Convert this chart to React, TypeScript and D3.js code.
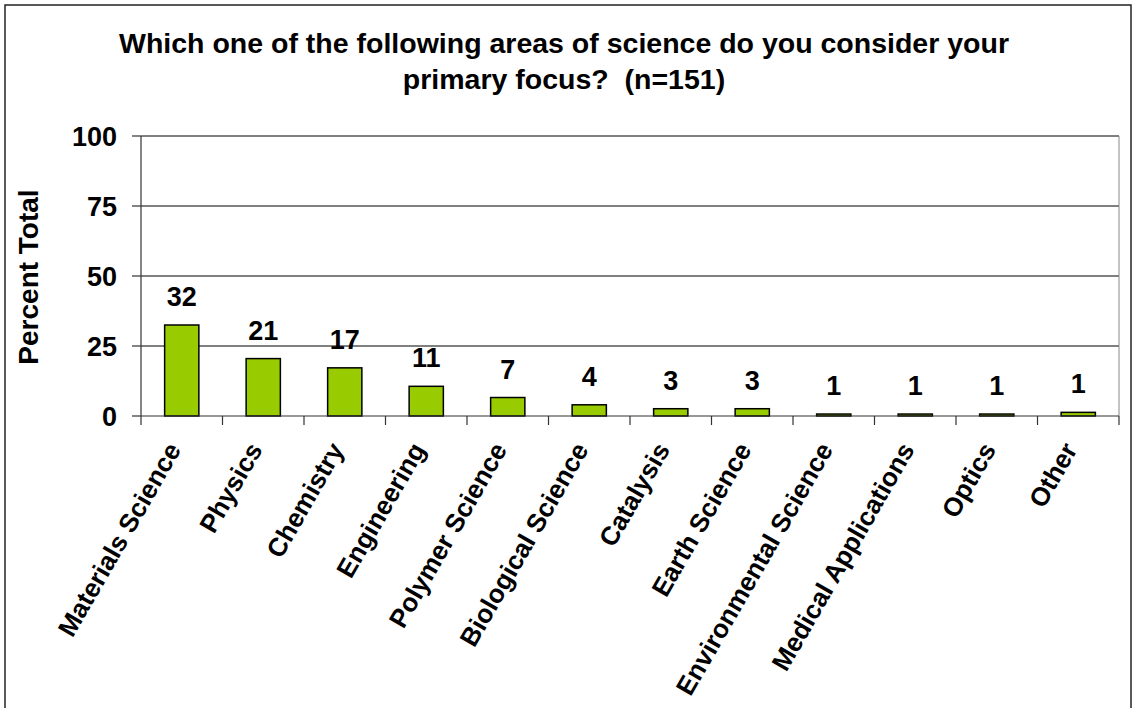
import React from "react";
import * as d3 from "d3";

const categories = [
  "Materials Science",
  "Physics",
  "Chemistry",
  "Engineering",
  "Polymer Science",
  "Biological Science",
  "Catalysis",
  "Earth Science",
  "Environmental Science",
  "Medical Applications",
  "Optics",
  "Other",
];
const values = [32.5, 20.5, 17.2, 10.6, 6.6, 4.0, 2.6, 2.6, 0.7, 0.7, 0.7, 1.3];
const valueLabels = ["32", "21", "17", "11", "7", "4", "3", "3", "1", "1", "1", "1"];
const yTicks = [0, 25, 50, 75, 100];
const titleLines = [
  "Which one of the following areas of science do you consider your",
  "primary focus?\u00a0 (n=151)",
];
const yAxisTitle = "Percent Total";

const W = 1135;
const H = 708;
const FONT = "Arial, 'Liberation Sans', Helvetica, sans-serif";

export default function App() {
  const left = 141;
  const right = 1119;
  const top = 136;
  const bottom = 416;
  const x = d3.scaleBand<string>().domain(categories).range([left, right]).padding(0);
  const y = d3.scaleLinear().domain([0, 100]).range([bottom, top]);
  const barW = x.bandwidth() * 0.42;
  const boundaries = d3.range(categories.length + 1).map((i) => left + i * x.step());

  return (
    <svg
      width={W}
      height={H}
      viewBox={`0 0 ${W} ${H}`}
      style={{ position: "absolute", left: 0, top: 0, background: "#fff" }}
      fontFamily={FONT}
    >
      <rect x={0} y={0} width={W} height={H} fill="#fff" />
      <rect x={5} y={5} width={1126} height={H + 10} fill="none" stroke="#222" strokeWidth={1.5} />

      {/* title */}
      {titleLines.map((t, i) => (
        <text
          key={i}
          x={564}
          y={53 + i * 36}
          textAnchor="middle"
          fontSize={28.5}
          fontWeight="bold"
          fill="#000"
        >
          {t}
        </text>
      ))}

      {/* gridlines */}
      {yTicks.filter((t) => t > 0).map((t) => (
        <line key={t} x1={left} x2={right} y1={y(t)} y2={y(t)} stroke="#000" strokeWidth={1} />
      ))}
      <line x1={right} x2={right} y1={top} y2={bottom} stroke="#888" strokeWidth={1} />

      {/* y axis */}
      <line x1={left} x2={left} y1={top} y2={bottom} stroke="#333" strokeWidth={1.2} />
      {yTicks.map((t) => (
        <g key={t}>
          <line x1={left - 9} x2={left} y1={y(t)} y2={y(t)} stroke="#333" strokeWidth={1.2} />
          <text
            x={117}
            y={y(t)}
            dy="0.36em"
            textAnchor="end"
            fontSize={27}
            fontWeight="bold"
            fill="#000"
          >
            {t}
          </text>
        </g>
      ))}
      <text
        transform={`translate(38,277) rotate(-90)`}
        textAnchor="middle"
        fontSize={28}
        fontWeight="bold"
        fill="#000"
      >
        {yAxisTitle}
      </text>

      {/* bars */}
      {categories.map((c, i) => {
        const cx = (x(c) as number) + x.bandwidth() / 2;
        return (
          <g key={c}>
            <rect
              x={cx - barW / 2}
              y={y(values[i])}
              width={barW}
              height={bottom - y(values[i])}
              fill="#99CC00"
              stroke="#000"
              strokeWidth={1.5}
            />
            <text
              x={cx}
              y={y(values[i]) - 19}
              textAnchor="middle"
              fontSize={27}
              fontWeight="bold"
              fill="#000"
            >
              {valueLabels[i]}
            </text>
          </g>
        );
      })}

      {/* x axis */}
      <line x1={left} x2={right} y1={bottom} y2={bottom} stroke="#333" strokeWidth={1.2} />
      {boundaries.map((b, i) => (
        <line key={i} x1={b} x2={b} y1={bottom} y2={bottom + 9} stroke="#333" strokeWidth={1.2} />
      ))}
      {categories.map((c) => {
        const cx = (x(c) as number) + x.bandwidth() / 2;
        return (
          <text
            key={c}
            transform={`translate(${cx - 8},${bottom + 29}) rotate(-60)`}
            textAnchor="end"
            dy="0.35em"
            fontSize={26}
            fontWeight="bold"
            fill="#000"
          >
            {c}
          </text>
        );
      })}
    </svg>
  );
}
